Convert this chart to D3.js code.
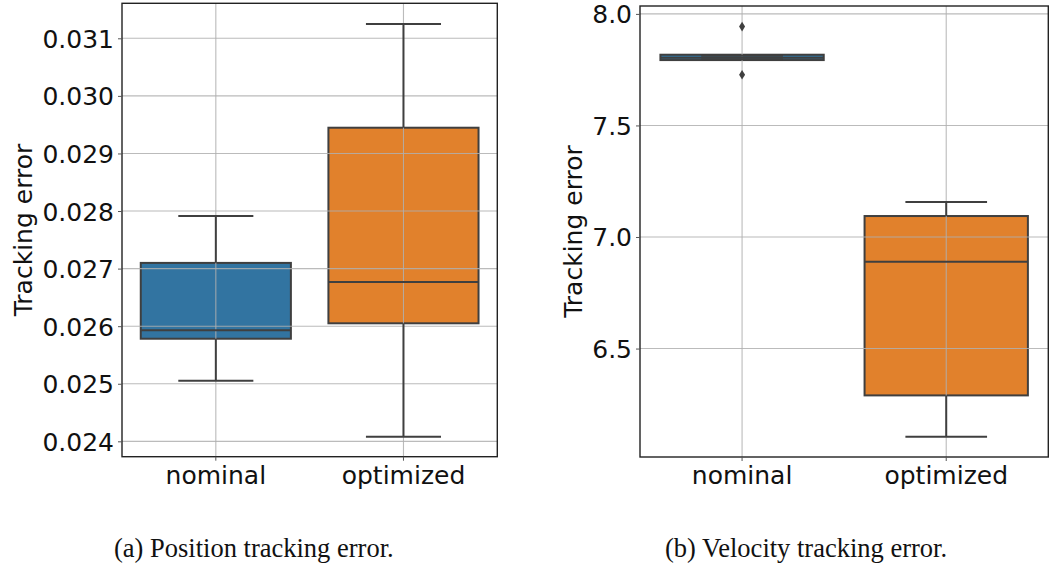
<!DOCTYPE html>
<html>
<head>
<meta charset="utf-8">
<script src="https://cdn.jsdelivr.net/npm/d3@7"></script>
<style>
  html, body { margin: 0; padding: 0; background: #fff; }
  svg { display: block; }
</style>
</head>
<body>
<svg id="fig" width="1049" height="566"></svg>
<script>
// Categories shared by both panels
const categories = ["nominal", "optimized"];
const boxColors = ["#3274a1", "#e1812c"];

// Panel (a): position tracking error — box statistics per category
const posWhiskerLow = [0.025053, 0.024080];
const posQ1         = [0.025782, 0.026050];
const posMedian     = [0.025928, 0.026767];
const posQ3         = [0.027099, 0.029447];
const posWhiskerHigh= [0.027914, 0.031249];
const posOutliers   = [[], []];
const posTicks      = [0.024, 0.025, 0.026, 0.027, 0.028, 0.029, 0.030, 0.031];
const posLimits     = [0.023733, 0.031608];

// Panel (b): velocity tracking error — box statistics per category
const velWhiskerLow = [7.797, 6.105];
const velQ1         = [7.793, 6.290];
const velMedian     = [7.804, 6.889];
const velQ3         = [7.817, 7.094];
const velWhiskerHigh= [7.812, 7.157];
const velOutliers   = [[7.943, 7.7275], []];
const velTicks      = [6.5, 7.0, 7.5, 8.0];
const velLimits     = [6.0139, 8.0354];

const captions = ["(a) Position tracking error.", "(b) Velocity tracking error."];

const svg = d3.select("#fig");
const FONT = "'DejaVu Sans', sans-serif";
const LINE = "#3f3f3f";
const GRID = "#b0b0b0";

function panel(cfg) {
  const g = svg.append("g");
  const x = d3.scaleBand().domain(categories).range([cfg.left, cfg.right]).padding(0);
  const y = d3.scaleLinear().domain(cfg.limits).range([cfg.bottom, cfg.top]);
  const bw = x.bandwidth() * 0.8;
  const cx = d => x(d.c) + x.bandwidth() / 2;

  const stats = categories.map((c, i) => ({
    c, i,
    lo: cfg.wl[i], q1: cfg.q1[i], med: cfg.med[i], q3: cfg.q3[i], hi: cfg.wh[i],
    out: cfg.out[i]
  }));

  // box bodies (below the grid)
  g.append("g").selectAll("rect").data(stats).join("rect")
    .attr("x", d => cx(d) - bw / 2)
    .attr("width", bw)
    .attr("y", d => y(d.q3))
    .attr("height", d => Math.max(0.5, y(d.q1) - y(d.q3)))
    .attr("fill", d => boxColors[d.i])
    .attr("stroke", LINE).attr("stroke-width", 2);

  // grid
  const grid = g.append("g");
  grid.selectAll("line.h").data(cfg.ticks).join("line").attr("class", "h")
    .attr("x1", cfg.left).attr("x2", cfg.right)
    .attr("y1", d => y(d)).attr("y2", d => y(d))
    .attr("stroke", GRID).attr("stroke-width", 1.1).attr("opacity", 0.85);
  grid.selectAll("line.v").data(categories).join("line").attr("class", "v")
    .attr("x1", d => x(d) + x.bandwidth() / 2).attr("x2", d => x(d) + x.bandwidth() / 2)
    .attr("y1", cfg.top).attr("y2", cfg.bottom)
    .attr("stroke", GRID).attr("stroke-width", 1.1).attr("opacity", 0.85);

  // whiskers, caps, medians and fliers (above the grid)
  const b = g.selectAll("g.box").data(stats).join("g").attr("class", "box");
  b.append("line")
    .attr("x1", cx).attr("x2", cx)
    .attr("y1", d => y(d.q3)).attr("y2", d => y(Math.max(d.hi, d.q3)))
    .attr("stroke", LINE).attr("stroke-width", 2);
  b.append("line")
    .attr("x1", cx).attr("x2", cx)
    .attr("y1", d => y(d.q1)).attr("y2", d => y(Math.min(d.lo, d.q1)))
    .attr("stroke", LINE).attr("stroke-width", 2);
  ["lo", "hi"].forEach(k => {
    b.append("line")
      .attr("x1", d => cx(d) - bw / 4).attr("x2", d => cx(d) + bw / 4)
      .attr("y1", d => y(d[k])).attr("y2", d => y(d[k]))
      .attr("stroke", LINE).attr("stroke-width", 2);
  });
  b.append("line")
    .attr("x1", d => cx(d) - bw / 2).attr("x2", d => cx(d) + bw / 2)
    .attr("y1", d => y(d.med)).attr("y2", d => y(d.med))
    .attr("stroke", LINE).attr("stroke-width", 2);
  b.each(function(d) {
    d3.select(this).selectAll("path.flier").data(d.out).join("path")
      .attr("class", "flier")
      .attr("d", v => {
        const px = cx(d), py = y(v);
        return `M${px},${py - 4.8}L${px + 3},${py}L${px},${py + 4.8}L${px - 3},${py}Z`;
      })
      .attr("fill", LINE);
  });

  // frame
  g.append("rect")
    .attr("x", cfg.left).attr("y", cfg.top)
    .attr("width", cfg.right - cfg.left).attr("height", cfg.bottom - cfg.top)
    .attr("fill", "none").attr("stroke", "#222").attr("stroke-width", 1.4);

  // y axis
  const ya = d3.axisLeft(y).tickValues(cfg.ticks).tickFormat(d3.format(cfg.fmt))
    .tickSizeInner(4).tickSizeOuter(0).tickPadding(4);
  const yg = g.append("g").attr("transform", `translate(${cfg.left},0)`).call(ya);
  yg.select(".domain").remove();
  yg.selectAll(".tick line").attr("stroke", "#555");
  yg.selectAll(".tick text").attr("font-family", FONT).attr("font-size", 25)
    .attr("fill", "#111").attr("dy", "0.36em");

  // x axis
  const xa = d3.axisBottom(x).tickSizeInner(4).tickSizeOuter(0).tickPadding(4);
  const xg = g.append("g").attr("transform", `translate(0,${cfg.bottom})`).call(xa);
  xg.select(".domain").remove();
  xg.selectAll(".tick line").attr("stroke", "#555");
  xg.selectAll(".tick text").attr("font-family", FONT).attr("font-size", 25)
    .attr("fill", "#111").attr("y", 0).attr("dy", 0)
    .attr("transform", `translate(0,${483.5 - cfg.bottom})`);

  // y label
  g.append("text")
    .attr("transform", `translate(${cfg.labelX},${(cfg.top + cfg.bottom) / 2}) rotate(-90)`)
    .attr("text-anchor", "middle")
    .attr("font-family", FONT).attr("font-size", 25).attr("fill", "#111")
    .text("Tracking error");

  // caption
  svg.append("text")
    .attr("x", cfg.capX).attr("y", 557)
    .attr("font-family", "'Liberation Serif', 'Times New Roman', serif")
    .attr("font-size", 26.5).attr("fill", "#111")
    .text(cfg.caption);
}

panel({
  left: 122, right: 497.3, top: 3.3, bottom: 456.7,
  limits: posLimits, ticks: posTicks, fmt: ".3f",
  wl: posWhiskerLow, q1: posQ1, med: posMedian, q3: posQ3, wh: posWhiskerHigh, out: posOutliers,
  labelX: 31.5, capX: 114, caption: captions[0]
});

panel({
  left: 640, right: 1048.3, top: 6, bottom: 457,
  limits: velLimits, ticks: velTicks, fmt: ".1f",
  wl: velWhiskerLow, q1: velQ1, med: velMedian, q3: velQ3, wh: velWhiskerHigh, out: velOutliers,
  labelX: 582, capX: 665, caption: captions[1]
});
</script>
</body>
</html>
